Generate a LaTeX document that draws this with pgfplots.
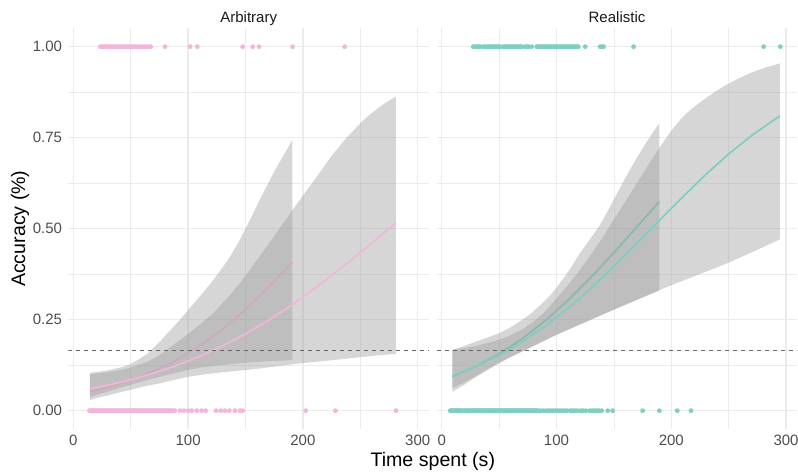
\documentclass[border=0pt]{standalone}
\usepackage{fontspec}
\setmainfont{Liberation Sans}
\usepackage{pgfplots}
\pgfplotsset{compat=1.18}
\definecolor{pinkc}{HTML}{F1B6DA}
\definecolor{tealc}{HTML}{80CDC1}
\definecolor{ribbon}{HTML}{999999}
\definecolor{gridc}{HTML}{EBEBEB}
\definecolor{tickc}{HTML}{4D4D4D}
\definecolor{hlinec}{HTML}{666666}
\pgfplotsset{
  panel/.style={
    scale only axis, width=270.525pt, height=300.3pt,
    xmin=-4.36, xmax=309.85, ymin=-0.05, ymax=1.05,
    axis line style={draw=none}, tick style={draw=none},
    major tick length=0pt, minor tick length=0pt,
    xtick={0,100,200,300}, xticklabels={0,100,200,300},
    minor xtick={50,150,250},
    ytick={0,0.25,0.5,0.75,1},
    minor ytick={0.125,0.375,0.625,0.875},
    grid=both,
    major grid style={draw=gridc, line width=1.0pt},
    minor grid style={draw=gridc, line width=0.5pt},
    /pgf/number format/assume math mode=true,
    ticklabel style={font=\fontsize{11.25}{13}\selectfont, text=tickc},
    xticklabel style={anchor=north, inner sep=0pt, yshift=-4.6pt},
    yticklabel style={anchor=east, inner sep=0pt, xshift=-4.5pt},
    clip=true,
  },
  rib/.style={draw=none, fill=ribbon, fill opacity=0.4},
  pts/.style={only marks, mark=*, color=#1, mark size=1.6pt, mark options={fill=#1, draw=#1, line width=0.3pt}},
  fit/.style={draw=#1, line width=1.3pt, no marks},
  hl/.style={draw=hlinec, line width=0.6pt, dash pattern=on 3pt off 3pt, no marks},
}
\begin{document}
\begin{tikzpicture}[x=1pt,y=1pt]
\path[use as bounding box] (0,0) rectangle (598.5,354.75);
% ---------------- Arbitrary ----------------
\begin{axis}[panel, at={(51.225pt,33.075pt)}, anchor=south west,
  yticklabels={0.00,0.25,0.50,0.75,1.00}]
\addplot[pts=pinkc] coordinates {
(14,0)(15,0)(16,0)(17,0)(18,0)(19,0)(20,0)(21,0)(22,0)(23,0)(24,0)(25,0)(26,0)(27,0)(28,0)(29,0)(30,0)
(31,0)(32,0)(33,0)(34,0)(35,0)(36,0)(37,0)(38,0)(39,0)(40,0)(41,0)(42,0)(43,0)(44,0)(45,0)(46,0)(47,0)
(48,0)(49,0)(50,0)(51,0)(52,0)(53,0)(54,0)(55,0)(56,0)(57,0)(58,0)(59,0)(60,0)(61,0)(62,0)(63,0)(64,0)
(65,0)(66,0)(67,0)(68,0)(69,0)(70,0)(71,0)(72,0)(73,0)(74,0)(75,0)(76,0)(77,0)(78,0)(79,0)(80,0)(81,0)
(82,0)(83,0)(84,0)(85,0)(86,0)(87,0)(88.5,0)
(92.9,0)(96.4,0)(100.2,0)(103.1,0)(107.5,0)(111.8,0)(115.3,0)
(124.3,0)(128.4,0)(132.1,0)(135.9,0)(140.9,0)(145.2,0)(147.6,0)
(202.4,0)(228.3,0)(281.1,0)
};
\addplot[pts=pinkc] coordinates {
(23.5,1)(25,1)(26.5,1)(28,1)(29.5,1)(31,1)(32.5,1)(34,1)(35.5,1)(37,1)(38.5,1)(40,1)(41.5,1)
(43,1)(44.5,1)(46,1)(47.5,1)(49,1)(50.5,1)(52.5,1)(54,1)(56,1)(58,1)(60,1)(62,1)(63.5,1)(66,1)(67.5,1)
(79.9,1)(101.7,1)(108,1)(147.5,1)(156.2,1)(161.8,1)(191,1)(236.4,1)
};
% short group
\addplot[rib] coordinates {
(14.5,.104)(22,.107)(30,.111)(40,.118)(49.4,.127)(57,.141)(65,.157)(72,.179)(78.4,.20)(86,.226)(92.9,.25)
(100,.276)(107.5,.304)(115,.332)(122,.359)(129,.389)(136.5,.423)(144,.463)(151,.506)(156,.538)(161,.57)
(166,.602)(171.3,.634)(176,.662)(181,.69)(186,.717)(190.8,.744)
(190.8,.139)(180,.1375)(170,.136)(160,.134)(151,.132)(138,.128)(125,.124)(112,.119)(100.2,.112)(88,.103)
(75,.093)(62,.082)(49.4,.0706)(40,.062)(30,.052)(22,.045)(14.5,.037)
} -- cycle;
\addplot[fit=pinkc] coordinates {
(14.5,0.0522)(30,0.0643)(50,0.0839)(70,0.1087)(90,0.1398)(110,0.1779)(130,0.2237)(150,0.2775)(170,0.3385)(190.8,0.408)
};
% long group
\addplot[rib] coordinates {
(14.5,.10)(22,.103)(30,.106)(40,.111)(49.4,.118)(57,.126)(65,.135)(72,.147)(78.4,.16)(89,.185)(100.2,.211)
(111,.239)(122,.268)(129,.292)(136.5,.318)(144,.346)(151,.375)(161,.418)(171.3,.463)(184,.52)(197.5,.58)
(211,.638)(225,.70)(237,.746)(250,.79)(257,.81)(265,.83)(273,.848)(281,.863)
(281,.156)(265,.152)(250,.147)(235,.142)(220,.137)(197.5,.13)(180,.123)(165,.117)(151,.112)(138,.108)
(125,.104)(112,.099)(100.2,.093)(88,.085)(75,.075)(62,.067)(49.4,.057)(40,.050)(30,.042)(22,.036)(14.5,.029)
} -- cycle;
\addplot[fit=pinkc] coordinates {
(14.5,0.0601)(30,0.0700)(50,0.0851)(70,0.1030)(90,0.1242)(110,0.1492)(130,0.1780)(150,0.2110)
(170,0.2483)(190,0.2897)(210,0.3351)(230,0.3837)(250,0.4346)(270,0.4870)(281,0.5161)
};
\addplot[hl] coordinates {(-4.36,0.1667)(309.85,0.1667)};
\end{axis}
% ---------------- Realistic ----------------
\begin{axis}[panel, at={(327.5pt,33.075pt)}, anchor=south west, yticklabels={}]
\addplot[pts=tealc] coordinates {
(7.5,0)(8.5,0)(9.5,0)(10.5,0)(11.5,0)(12.5,0)(13.5,0)(14.5,0)(15.5,0)(16.5,0)(17.5,0)(19,0)(20.5,0)
(21.5,0)(22.5,0)(23.5,0)(24.5,0)(25.5,0)(26.5,0)(27.5,0)(28.5,0)(29.5,0)(30.5,0)(31.5,0)(32.5,0)(33.5,0)
(34.5,0)(35.5,0)(36.5,0)(37.5,0)(38.5,0)(39.5,0)(40.5,0)(41.5,0)(42.5,0)(43.5,0)(44.5,0)(45.5,0)(46.5,0)
(47.5,0)(48.5,0)(49.5,0)(50.5,0)(51.5,0)(52.5,0)(53.5,0)(54.5,0)(55.5,0)(56.5,0)(57.5,0)(58.5,0)(59.5,0)
(60.5,0)(61.5,0)(62.5,0)(63.5,0)(64.5,0)(65.5,0)(66.5,0)(67.5,0)(68.5,0)(69.5,0)(70.5,0)(71.5,0)(72.5,0)
(73.5,0)(74.5,0)(75.5,0)(76.5,0)(77.5,0)(78.5,0)(79.5,0)(80.5,0)(81.5,0)(82.5,0)
(84,0)(86,0)(88.5,0)(91,0)(93,0)(95,0)(97,0)(99,0)(101,0)(103,0)(105,0)(107,0)(109,0)(112,0)(114,0)
(116,0)(118,0)(121,0)(123,0)(125.5,0)(129,0)(131,0)(133,0)(135,0)(137,0)(139.4,0)
(144.6,0)(148.9,0)(175.1,0)(189.6,0)(205.2,0)(217.2,0)
};
\addplot[pts=tealc] coordinates {
(27.5,1)(29,1)(30.5,1)(32,1)(33.5,1)(36.3,1)(37.8,1)(39.3,1)(40.8,1)(42.3,1)(43.8,1)(45.3,1)(46.8,1)
(48.3,1)(49.8,1)(50.8,1)(53.7,1)(55.2,1)(56.7,1)(58.2,1)(59.7,1)(61.2,1)(62.7,1)(64.2,1)(65.7,1)(67.2,1)
(68.7,1)(69.7,1)(72.6,1)(74,1)(75.5,1)(78.4,1)(82.8,1)(84.3,1)(85.8,1)(87.3,1)(88.8,1)(90.3,1)(91.8,1)
(93.3,1)(94.8,1)(96.3,1)(97.8,1)(99.3,1)(100.2,1)(101.6,1)(103.1,1)(104.6,1)(106.1,1)(107.6,1)(109.1,1)
(110.6,1)(112.1,1)(113.6,1)(115.1,1)(116.6,1)(118,1)(119,1)
(125,1)(138,1)(139.5,1)(141,1)(167.2,1)(280.5,1)(295,1)
};
% short group
\addplot[rib] coordinates {
(9.3,.167)(20,.178)(30,.19)(40,.201)(50,.213)(60,.229)(67,.243)(74,.258)(80,.273)(87,.293)(94,.315)
(100,.338)(106,.363)(113,.395)(120.5,.433)(129,.47)(137.9,.51)(144,.545)(150,.58)(157,.622)(164,.662)
(170,.695)(177,.731)(183,.76)(189.6,.79)
(189.6,.330)(170,.304)(149.5,.277)(125,.243)(99.6,.208)(75,.17)(60,.147)(50,.130)(40,.112)(27.6,.088)
(18,.068)(9.3,.052)
} -- cycle;
\addplot[fit=tealc] coordinates {
(9.3,0.0939)(30,0.1221)(50,0.1560)(70,0.1973)(90,0.2464)(110,0.3029)(130,0.3661)(150,0.4342)(170,0.505)(189.6,0.5742)
};
% long group
\addplot[rib] coordinates {
(9.3,.167)(20,.172)(30,.178)(40,.186)(50,.195)(60,.207)(70,.223)(80,.245)(90,.272)(100,.308)(110,.345)
(120,.385)(130,.428)(140,.475)(150,.525)(160,.575)(170,.625)(180,.675)(189.6,.722)(199.5,.767)(208,.80)
(216.3,.826)(225,.847)(237,.874)(249,.897)(260,.915)(270,.929)(282,.943)(294.7,.954)
(294.7,.471)(275,.442)(249.5,.406)(220,.369)(207.6,.354)(190.2,.332)(170,.305)(149.5,.277)(125,.243)
(99.6,.208)(75,.17)(60,.148)(50,.132)(40,.114)(27.6,.091)(18,.075)(9.3,.061)
} -- cycle;
\addplot[fit=tealc] coordinates {
(9.3,0.0960)(30,0.1218)(50,0.1524)(70,0.1889)(90,0.2319)(110,0.2809)(130,0.3360)(150,0.3960)
(170,0.4593)(190,0.5239)(210,0.5876)(230,0.6487)(250,0.7051)(270,0.7560)(294.7,0.8100)
};
\addplot[hl] coordinates {(-4.36,0.1667)(309.85,0.1667)};
\end{axis}
% ---------------- titles ----------------
\node[anchor=base, font=\fontsize{11.25}{13}\selectfont, text=black!90] at (186.5,338) {Arbitrary};
\node[anchor=base, font=\fontsize{11.25}{13}\selectfont, text=black!90] at (462.75,338) {Realistic};
\node[anchor=base, font=\fontsize{14.7}{17}\selectfont] at (324.6,4.5) {Time spent (s)};
\node[anchor=base, rotate=90, font=\fontsize{14.7}{17}\selectfont] at (18.75,183.2) {Accuracy (\%)};
\end{tikzpicture}
\end{document}
